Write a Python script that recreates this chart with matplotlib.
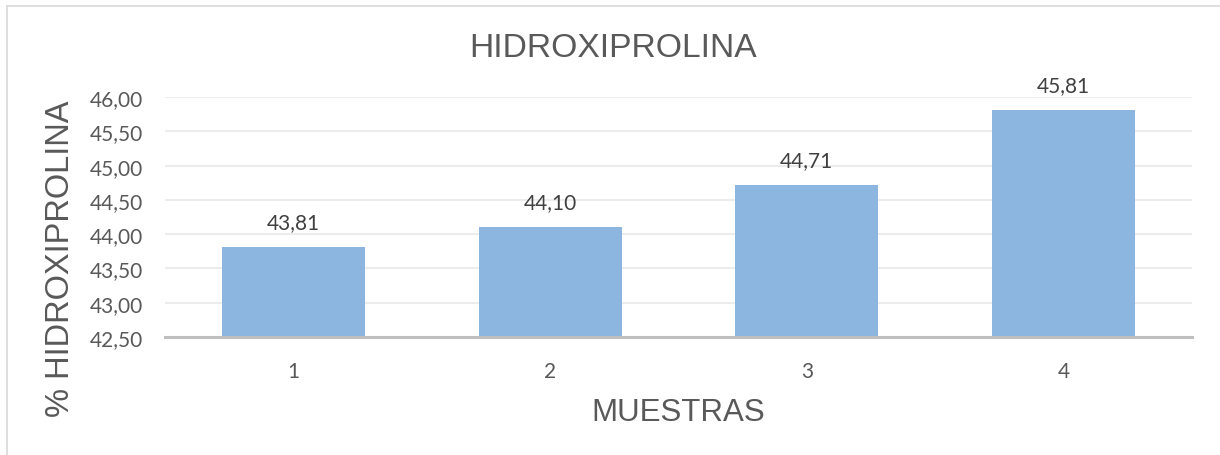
import matplotlib
matplotlib.use("Agg")
import matplotlib.pyplot as plt
from matplotlib.lines import Line2D
from matplotlib.ticker import FuncFormatter

# data
muestras = ["1", "2", "3", "4"]
hidroxiprolina = [43.81, 44.10, 44.71, 45.81]
y_ticks = [42.5, 43.0, 43.5, 44.0, 44.5, 45.0, 45.5, 46.0]

fig = plt.figure(figsize=(12.2, 4.56), dpi=100)
ax = fig.add_axes([0.1352, 0.2588, 0.8418, 0.5262])

x = list(range(len(muestras)))
bars = ax.bar(x, hidroxiprolina, width=0.557, color="#8cb6e0", zorder=3,
              bottom=0, edgecolor="none")

ax.set_xlim(-0.5, len(muestras) - 0.5)
ax.set_ylim(42.5, 46.0)
ax.set_yticks(y_ticks)
ax.yaxis.set_major_formatter(FuncFormatter(lambda v, p: f"{v:.2f}".replace(".", ",")))
ax.set_xticks(x)
ax.set_xticklabels(muestras)

tick_family = ["Lato", "DejaVu Sans"]
for lab in ax.get_xticklabels() + ax.get_yticklabels():
    lab.set_fontfamily(tick_family)
    lab.set_fontsize(15)
    lab.set_color("#595959")
ax.tick_params(axis="both", length=0)
ax.tick_params(axis="y", pad=16)
ax.tick_params(axis="x", pad=17)

ax.grid(axis="y", color="#ececec", linewidth=1.5, zorder=0)
for s in ["top", "right", "left"]:
    ax.spines[s].set_visible(False)
ax.spines["bottom"].set_color("#bfbfbf")
ax.spines["bottom"].set_linewidth(2.2)
ax.spines["bottom"].set_zorder(4)

for b, v in zip(bars, hidroxiprolina):
    ax.annotate(f"{v:.2f}".replace(".", ","),
                (b.get_x() + b.get_width() / 2, v),
                xytext=(0, 11), textcoords="offset points",
                ha="center", va="bottom", color="#404040",
                family=tick_family, fontsize=15)

label_font = ["Liberation Sans", "DejaVu Sans"]
fig.text(0.5025, 0.893, "HIDROXIPROLINA", ha="center", va="center",
         family=label_font, fontsize=24.2, color="#595959")
ax.set_xlabel("MUESTRAS", family=label_font, fontsize=22.5, color="#595959",
              labelpad=12)
fig.text(0.05, 0.432, "% HIDROXIPROLINA", rotation=90, ha="center", va="center",
         family=label_font, fontsize=23.5, color="#595959")

# light frame of the chart area (left and top edges)
fig.add_artist(Line2D([7 / 1220, 7 / 1220], [0, 1 - 7 / 456],
                      transform=fig.transFigure, color="#d9d9d9", linewidth=1.2))
fig.add_artist(Line2D([7 / 1220, 1], [1 - 7 / 456, 1 - 7 / 456],
                      transform=fig.transFigure, color="#d9d9d9", linewidth=1.2))

fig.savefig("out.png", dpi=100, facecolor="white")
plt.close(fig)
